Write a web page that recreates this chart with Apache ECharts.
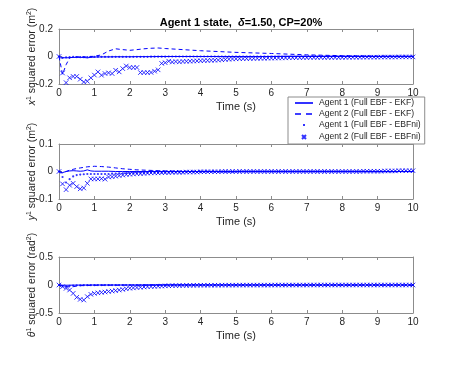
<!DOCTYPE html>
<html>
<head>
<meta charset="utf-8">
<script src="https://cdn.jsdelivr.net/npm/echarts@6/dist/echarts.min.js"></script>
<style>
html, body { margin: 0; padding: 0; background: #fff; }
#main { width: 457px; height: 382px; }
</style>
</head>
<body>
<div id="main"></div>
<script>
// time samples of the marker series (every 0.1 s)
var time = [0,0.1,0.2,0.3,0.4,0.5,0.6,0.7,0.8,0.9,1,
  1.1,1.2,1.3,1.4,1.5,1.6,1.7,1.8,1.9,2,
  2.1,2.2,2.3,2.4,2.5,2.6,2.7,2.8,2.9,3,
  3.1,3.2,3.3,3.4,3.5,3.6,3.7,3.8,3.9,4,
  4.1,4.2,4.3,4.4,4.5,4.6,4.7,4.8,4.9,5,
  5.1,5.2,5.3,5.4,5.5,5.6,5.7,5.8,5.9,6,
  6.1,6.2,6.3,6.4,6.5,6.6,6.7,6.8,6.9,7,
  7.1,7.2,7.3,7.4,7.5,7.6,7.7,7.8,7.9,8,
  8.1,8.2,8.3,8.4,8.5,8.6,8.7,8.8,8.9,9,
  9.1,9.2,9.3,9.4,9.5,9.6,9.7,9.8,9.9,10];
// time samples of the line series
var tLine = [0,0.1,0.2,0.3,0.4,0.5,0.6,0.7,0.8,0.9,1,1.2,1.4,1.6,1.8,2,2.2,2.4,2.6,2.8,3,3.5,4,4.5,5,5.5,6,7,8,9,10];

var seriesNames = ['Agent 1 (Full EBF - EKF)', 'Agent 2 (Full EBF - EKF)', 'Agent 1 (Full EBF - EBFni)', 'Agent 2 (Full EBF - EBFni)'];

// x error
var xEkf1 = [0,-0.008,-0.01,-0.008,-0.007,-0.006,-0.006,-0.007,-0.01,-0.006,-0.004,-0.003,-0.003,-0.002,-0.002,-0.002,-0.001,-0.001,-0.001,0,0,0,0,0,0,0,0,0,0,0,0];
var xEkf2 = [0,-0.13,-0.06,-0.01,-0.004,-0.003,-0.002,-0.002,-0.004,0,0.002,0.012,0.04,0.056,0.05,0.045,0.05,0.056,0.06,0.062,0.058,0.05,0.042,0.036,0.03,0.026,0.022,0.012,0.006,0.003,0.001];
var xNi1 = [0,-0.01,-0.006,-0.004,-0.003,-0.004,-0.005,-0.005,-0.004,-0.003,-0.003,
  -0.002,-0.002,-0.002,-0.002,-0.002,-0.002,-0.002,-0.002,-0.002,-0.002,
  -0.002,-0.002,-0.002,-0.002,-0.002,-0.001,-0.001,-0.001,-0.001,-0.001,
  0,0,0,0,0,0,0,0,0,0,
  0,0,0,0,0,0,0,0,0,0,
  0,0,0,0,0,0,0,0,0,0,
  0,0,0,0,0,0,0,0,0,0,
  0,0,0,0,0,0,0,0,0,0,
  0,0,0,0,0,0,0,0,0,0,
  0,0,0,0,0,0,0,0,0,0];
var xNi2 = [0,-0.12,-0.19,-0.155,-0.145,-0.145,-0.165,-0.185,-0.18,-0.155,-0.135,
  -0.112,-0.136,-0.124,-0.119,-0.124,-0.1,-0.112,-0.088,-0.069,-0.08,
  -0.08,-0.08,-0.117,-0.117,-0.117,-0.116,-0.107,-0.097,-0.05,-0.045,
  -0.034,-0.04,-0.037,-0.039,-0.036,-0.035,-0.034,-0.033,-0.032,-0.031,
  -0.03,-0.029,-0.028,-0.027,-0.026,-0.024,-0.022,-0.02,-0.018,-0.017,
  -0.016,-0.016,-0.015,-0.015,-0.014,-0.014,-0.013,-0.013,-0.012,-0.012,
  -0.011,-0.011,-0.01,-0.01,-0.009,-0.009,-0.009,-0.008,-0.008,-0.008,
  -0.007,-0.007,-0.007,-0.007,-0.007,-0.007,-0.007,-0.007,-0.007,-0.007,
  -0.006,-0.006,-0.006,-0.006,-0.006,-0.005,-0.005,-0.005,-0.005,-0.005,
  -0.004,-0.004,-0.004,-0.004,-0.004,-0.003,-0.003,-0.003,-0.003,-0.003];

// y error
var yEkf1 = [0,-0.004,0,0.002,0.003,0.002,0.001,0.002,0.006,0.002,0.001,0.001,0.001,0,0,0,0,0,0,0,0,0,0,0,0,0,0,0,0,0,0];
var yEkf2 = [0,-0.005,0,0.005,0.008,0.011,0.013,0.015,0.017,0.018,0.019,0.018,0.016,0.013,0.01,0.008,0.006,0.005,0.004,0.003,0.002,0.001,0.001,0,0,0,0,0,0,0,0];
var yNi1 = [0,-0.02,-0.04,-0.028,-0.018,-0.013,-0.011,-0.01,-0.009,-0.009,-0.009,
  -0.009,-0.009,-0.009,-0.009,-0.008,-0.008,-0.007,-0.007,-0.006,-0.006,
  -0.005,-0.005,-0.005,-0.005,-0.005,-0.004,-0.004,-0.004,-0.004,-0.004,
  -0.003,-0.003,-0.003,-0.003,-0.003,-0.002,-0.002,-0.002,-0.002,-0.002,
  -0.001,-0.001,-0.001,-0.001,-0.001,-0.001,-0.001,-0.001,-0.001,-0.001,
  0,0,0,0,0,0,0,0,0,0,
  0,0,0,0,0,0,0,0,0,0,
  0,0,0,0,0,0,0,0,0,0,
  0,0,0,0,0,0,0,0,0,0,
  0,0,0,0,0,0.001,0.001,0.001,0.001,0.001];
var yNi2 = [0,-0.045,-0.066,-0.05,-0.043,-0.055,-0.063,-0.06,-0.043,-0.027,-0.027,
  -0.027,-0.026,-0.028,-0.02,-0.019,-0.017,-0.015,-0.013,-0.011,-0.01,
  -0.009,-0.008,-0.008,-0.007,-0.006,-0.005,-0.005,-0.005,-0.004,-0.004,
  -0.004,-0.003,-0.003,-0.003,-0.003,-0.002,-0.002,-0.002,-0.002,-0.001,
  -0.001,-0.001,-0.001,-0.001,-0.001,0,0,0,0,0,
  0,0,0,0,0,0,0,0,0,0,
  0,0,0,0,0,0,0,0,0,0,
  0,0,0,0,0,0,0,0,0,0,
  0,0,0,0,0,0.001,0.001,0.001,0.001,0.001,
  0.001,0.002,0.002,0.002,0.002,0.003,0.003,0.003,0.003,0.003];

// theta error
var tEkf1 = [0,-0.003,-0.004,-0.003,-0.002,-0.002,-0.001,-0.001,-0.001,0,0,0,0,0,0,0,0,0,0,0,0,0,0,0,0,0,0,0,0,0,0];
var tEkf2 = [0,-0.01,-0.03,-0.035,-0.03,-0.02,-0.012,-0.01,-0.008,-0.006,-0.005,-0.004,-0.003,-0.003,-0.002,-0.001,-0.001,0,0,0,0,0,0,0,0,0,0,0,0,0,0];
var tNi1 = [0,-0.02,-0.025,-0.015,-0.01,-0.006,-0.005,-0.004,-0.004,-0.003,-0.003,
  -0.002,-0.002,-0.002,-0.002,-0.002,-0.002,-0.002,-0.002,-0.002,-0.002,
  -0.001,-0.001,-0.001,-0.001,-0.001,-0.001,-0.001,-0.001,-0.001,-0.001,
  0,0,0,0,0,0,0,0,0,0,
  0,0,0,0,0,0,0,0,0,0,
  0,0,0,0,0,0,0,0,0,0,
  0,0,0,0,0,0,0,0,0,0,
  0,0,0,0,0,0,0,0,0,0,
  0,0,0,0,0,0,0,0,0,0,
  0,0,0,0,0,0,0,0,0,0];
var tNi2 = [0,-0.03,-0.06,-0.09,-0.15,-0.22,-0.256,-0.268,-0.208,-0.167,-0.15,
  -0.14,-0.132,-0.125,-0.116,-0.108,-0.1,-0.09,-0.08,-0.068,-0.058,
  -0.052,-0.046,-0.041,-0.036,-0.032,-0.028,-0.025,-0.022,-0.019,-0.016,
  -0.014,-0.012,-0.011,-0.01,-0.009,-0.008,-0.007,-0.006,-0.005,-0.005,
  -0.004,-0.004,-0.004,-0.004,-0.004,-0.003,-0.003,-0.003,-0.003,-0.003,
  -0.002,-0.002,-0.002,-0.002,-0.002,-0.002,-0.002,-0.002,-0.002,-0.002,
  -0.001,-0.001,-0.001,-0.001,-0.001,-0.001,-0.001,-0.001,-0.001,-0.001,
  0,0,0,0,0,0,0,0,0,0,
  0,0,0,0,0,0,0,0,0,0,
  0,0,0,0,0,0,0,0,0,0];

var blue = '#0000ff';
var ink = '#262626';
var frame = '#8c8c8c';
var font = 'Liberation Sans';
var xMark = 'path://M0,0L10,10M10,0L0,10';

var panels = [
  { top: 29, height: 55, min: -0.2, max: 0.2, step: 0.2,
    label: '{i|x}{s|1}{n| squared error (m}{s|2}{n|)}',
    ekf1: xEkf1, ekf2: xEkf2, ni1: xNi1, ni2: xNi2 },
  { top: 144, height: 55, min: -0.1, max: 0.1, step: 0.1,
    label: '{i|y}{s|1}{n| squared error (m}{s|2}{n|)}',
    ekf1: yEkf1, ekf2: yEkf2, ni1: yNi1, ni2: yNi2 },
  { top: 257, height: 56, min: -0.5, max: 0.5, step: 0.5,
    label: '{i|θ}{s|1}{n| squared error (rad}{s|2}{n|)}',
    ekf1: tEkf1, ekf2: tEkf2, ni1: tNi1, ni2: tNi2 }
];

function pairs(xs, ys) {
  return xs.map(function (x, i) { return [x, ys[i]]; });
}

var nameRich = {
  n: { fontSize: 10.5, color: ink, fontFamily: font },
  i: { fontSize: 10.5, color: ink, fontFamily: font, fontStyle: 'italic' },
  s: { fontSize: 7, color: ink, fontFamily: font, verticalAlign: 'top', padding: [0, 0, 5, 0] }
};

var grids = [], xAxes = [], yAxes = [], series = [];
panels.forEach(function (p, k) {
  grids.push({ left: 59, width: 354, top: p.top, height: p.height, show: true,
    backgroundColor: '#fff', borderWidth: 0 });
  var tick = { show: true, inside: true, length: 3, lineStyle: { color: frame, width: 1 } };
  var line = { show: true, onZero: false, lineStyle: { color: frame, width: 1 } };
  xAxes.push({ type: 'value', gridIndex: k, position: 'bottom', min: 0, max: 10, interval: 1,
    axisLine: line, axisTick: tick, splitLine: { show: false },
    axisLabel: { color: ink, fontSize: 10, fontFamily: font, margin: 4 },
    name: 'Time (s)', nameLocation: 'middle', nameGap: 17, nameMoveOverlap: false,
    nameTextStyle: { color: ink, fontSize: 11, fontFamily: font } });
  xAxes.push({ type: 'value', gridIndex: k, position: 'top', min: 0, max: 10, interval: 1,
    axisLine: line, axisTick: tick, splitLine: { show: false }, axisLabel: { show: false } });
  yAxes.push({ type: 'value', gridIndex: k, position: 'left', min: p.min, max: p.max, interval: p.step,
    axisLine: line, axisTick: tick, splitLine: { show: false },
    axisLabel: { color: ink, fontSize: 10, fontFamily: font, margin: 6 },
    name: p.label, nameLocation: 'middle', nameGap: 21, nameMoveOverlap: false,
    nameTextStyle: { color: ink, fontSize: 10.5, fontFamily: font, rich: nameRich } });
  yAxes.push({ type: 'value', gridIndex: k, position: 'right', min: p.min, max: p.max, interval: p.step,
    axisLine: line, axisTick: tick, splitLine: { show: false }, axisLabel: { show: false } });

  var xi = 2 * k, yi = 2 * k;
  series.push({ name: seriesNames[0], type: 'line', xAxisIndex: xi, yAxisIndex: yi,
    data: pairs(tLine, p.ekf1), symbol: 'none', lineStyle: { color: blue, width: 1 },
    itemStyle: { color: blue } });
  series.push({ name: seriesNames[1], type: 'line', xAxisIndex: xi, yAxisIndex: yi,
    data: pairs(tLine, p.ekf2), symbol: 'none', lineStyle: { color: blue, width: 1, type: [4, 3] },
    itemStyle: { color: blue } });
  series.push({ name: seriesNames[2], type: 'scatter', xAxisIndex: xi, yAxisIndex: yi,
    data: pairs(time, p.ni1), symbol: 'circle', symbolSize: 2.2,
    itemStyle: { color: blue } });
  series.push({ name: seriesNames[3], type: 'scatter', xAxisIndex: xi, yAxisIndex: yi,
    data: pairs(time, p.ni2), symbol: xMark, symbolSize: 4.5,
    itemStyle: { color: blue, borderColor: blue, borderWidth: 1 } });
});

var myChart = echarts.init(document.getElementById('main'), null, { renderer: 'canvas' });
myChart.setOption({
  animation: false,
  backgroundColor: '#fff',
  title: {
    text: '{b|Agent 1 state,  }{d|δ}{b|=1.50, CP=20%}',
    left: 236, top: 12, textAlign: 'center',
    textStyle: { rich: {
      b: { fontSize: 11, fontWeight: 'bold', color: '#000', fontFamily: font },
      d: { fontSize: 11, fontWeight: 'bold', fontStyle: 'italic', color: '#000', fontFamily: font }
    } }
  },
  legend: {
    orient: 'vertical', left: 288, top: 97,
    backgroundColor: '#fff', borderColor: frame, borderWidth: 1, borderRadius: 0,
    padding: [1, 4, 1, 5], itemGap: 1, itemWidth: 20, itemHeight: 10,
    textStyle: { color: ink, fontSize: 8.6, fontFamily: font },
    data: [
      { name: seriesNames[0], icon: 'path://M0,0M20,10M1,4.2h18v1.6h-18z' },
      { name: seriesNames[1], icon: 'path://M0,0M20,10M1,4.2h6v1.6h-6zM12,4.2h6v1.6h-6z' },
      { name: seriesNames[2], icon: 'path://M0,0M20,10M9,4h2v2h-2z' },
      { name: seriesNames[3], icon: 'path://M0,0M20,10M8,3L12,7M12,3L8,7' }
    ]
  },
  grid: grids,
  xAxis: xAxes,
  yAxis: yAxes,
  series: series
});
</script>
</body>
</html>
